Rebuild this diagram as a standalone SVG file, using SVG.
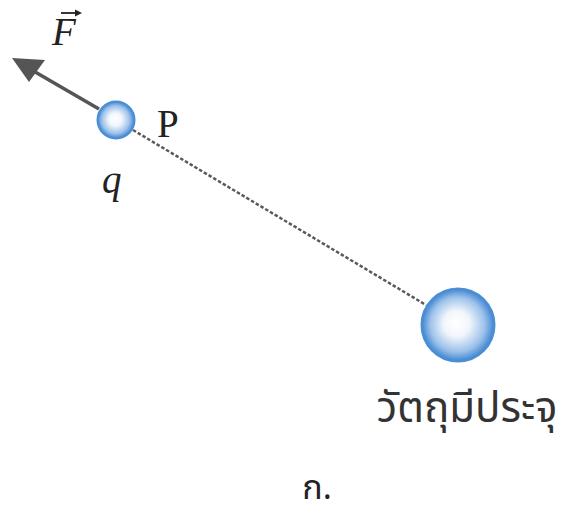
<svg xmlns="http://www.w3.org/2000/svg" width="563" height="509" viewBox="0 0 563 509">
<style>
.serif{font-family:"Liberation Serif","DejaVu Serif",serif;fill:#222}
.thai{font-family:"Noto Sans","Noto Sans Thai","DejaVu Sans",sans-serif;fill:#333}
.ball{fill:url(#g);stroke:#4a8ed6;stroke-width:2}
</style>
<defs>
<radialGradient id="g" cx="0.5" cy="0.5" r="0.5" fx="0.47" fy="0.47">
<stop offset="0" stop-color="#ffffff"/>
<stop offset="0.35" stop-color="#f2f6fc"/>
<stop offset="0.75" stop-color="#9cc1ea"/>
<stop offset="1" stop-color="#3d84d0"/>
</radialGradient>
</defs>
<g id="connectors">
<line x1="133" y1="130" x2="426" y2="305" stroke="#5a5a5a" stroke-width="2.5" stroke-dasharray="3.5,2"/>
<path d="M99,109 L30,69" stroke="#555" stroke-width="3.5" fill="none"/>
<path d="M12,58 L45,60 L29,82 Z" fill="#555"/>
</g>
<g id="charge-q">
<circle class="ball" cx="116" cy="120" r="18.5"/>
<text class="serif" x="157" y="137" font-size="39">P</text>
<text class="serif" x="102" y="193" font-size="39" font-style="italic">q</text>
</g>
<g id="force-label">
<text class="serif" x="52" y="45" font-size="39" font-style="italic">F</text>
<path d="M61,13 L78,13" stroke="#222" stroke-width="1.8"/>
<path d="M82,13 L75,9.5 L75,16.5 Z" fill="#222"/>
</g>
<g id="charged-object">
<circle class="ball" cx="458" cy="325" r="36.5"/>
<text class="thai" x="467" y="422" font-size="42" text-anchor="middle">วัตถุมีประจุ</text>
</g>
<text class="thai" x="317" y="499" font-size="34" text-anchor="middle" style="fill:#222">ก.</text>
</svg>
